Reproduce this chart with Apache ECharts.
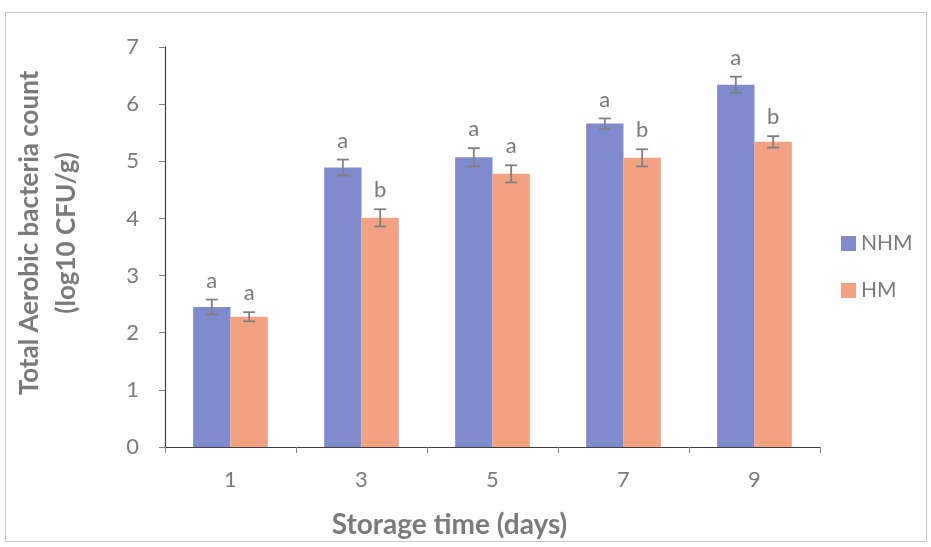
<!DOCTYPE html>
<html>
<head>
<meta charset="utf-8">
<script src="https://cdn.jsdelivr.net/npm/echarts@6/dist/echarts.min.js"></script>
<style>html,body{margin:0;padding:0;background:#fff;}#c{width:931px;height:547px;}</style>
</head>
<body>
<div id="c"></div>
<script>
var categories = ['1', '3', '5', '7', '9'];
var nhm = [2.45, 4.89, 5.07, 5.66, 6.34];
var hm = [2.28, 4.01, 4.78, 5.06, 5.34];
var nhmErr = [0.13, 0.14, 0.16, 0.09, 0.14];
var hmErr = [0.08, 0.15, 0.15, 0.15, 0.10];
var nhmLetters = ['a', 'a', 'a', 'a', 'a'];
var hmLetters = ['a', 'b', 'a', 'b', 'b'];
var yTicks = [0, 1, 2, 3, 4, 5, 6, 7];

var FONT = 'Lato, "Open Sans", sans-serif';
var GAP = 0.43;
var TXT = '#7a7a7a';

function errSeries(name, vals, errs, letters, side) {
  var data = vals.map(function (v, i) { return [i, v, errs[i]]; });
  return {
    name: name + '_err',
    type: 'custom',
    z: 5,
    data: data,
    renderItem: function (params, api) {
      var i = api.value(0), v = api.value(1), e = api.value(2);
      var letter = letters[params.dataIndex];
      var bw = api.size([1, 0])[0];
      var barW = bw * (1 - GAP) / 2;
      var c = api.coord([i, v]);
      var x = c[0] + side * barW / 2;
      var top = api.coord([i, v + e])[1];
      var bot = api.coord([i, v - e])[1];
      var cap = 6;
      var st = { stroke: '#808080', lineWidth: 1.8 };
      return {
        type: 'group',
        children: [
          { type: 'line', shape: { x1: x, y1: top, x2: x, y2: bot }, style: st },
          { type: 'line', shape: { x1: x - cap, y1: top, x2: x + cap, y2: top }, style: st },
          { type: 'line', shape: { x1: x - cap, y1: bot, x2: x + cap, y2: bot }, style: st },
          { type: 'text', x: x, y: top - 8, style: { text: letter, fill: TXT, font: '22px ' + FONT, textAlign: 'center', textVerticalAlign: 'bottom' } }
        ]
      };
    }
  };
}

var chart = echarts.init(document.getElementById('c'), null, { renderer: 'canvas' });
chart.setOption({
  backgroundColor: '#fff',
  animation: false,
  graphic: [
    { type: 'rect', shape: { x: 5.5, y: 12.5, width: 921, height: 529 }, style: { fill: 'none', stroke: '#cbbfd2', lineWidth: 1 } }
  ],
  grid: { left: 165, right: 111, top: 47, bottom: 100, outerBoundsMode: 'none', containLabel: false },
  legend: {
    orient: 'vertical',
    left: 836, top: 228,
    itemWidth: 15, itemHeight: 15, itemGap: 26,
    icon: 'rect',
    data: ['NHM', 'HM'],
    textStyle: { color: TXT, fontSize: 21, fontFamily: FONT, lineHeight: 20 }
  },
  xAxis: {
    type: 'category',
    data: categories,
    name: 'Storage time (days)',
    nameLocation: 'middle',
    nameGap: 64,
    nameTextStyle: { color: TXT, fontSize: 28, fontWeight: 'bold', fontFamily: FONT, padding: [0, 86, 0, 0] },
    axisLine: { lineStyle: { color: '#404040', width: 1.2 } },
    axisTick: { show: true, alignWithLabel: false, length: 6, inside: false, lineStyle: { color: '#808080' } },
    axisLabel: { color: TXT, fontSize: 22, fontFamily: FONT, margin: 22 }
  },
  yAxis: {
    type: 'value',
    min: 0, max: 7, interval: 1,
    name: 'Total Aerobic bacteria count\n(log10 CFU/g)',
    nameLocation: 'middle',
    nameGap: 80,
    nameTextStyle: { color: TXT, fontSize: 26, fontWeight: 'bold', fontFamily: FONT, lineHeight: 37, padding: [0, 0, 0, 28] },
    axisLine: { show: true, lineStyle: { color: '#404040', width: 1.2 } },
    axisTick: { show: true, length: 6, lineStyle: { color: '#808080' } },
    splitLine: { show: false },
    axisLabel: { color: TXT, fontSize: 22, fontFamily: FONT, margin: 26,
      formatter: function (v) { return yTicks.indexOf(v) >= 0 ? String(v) : ''; } }
  },
  series: [
    { name: 'NHM', type: 'bar', data: nhm, barGap: '0%', barCategoryGap: (GAP * 100) + '%',
      itemStyle: { color: '#7f8bcd' } },
    { name: 'HM', type: 'bar', data: hm, barGap: '0%', barCategoryGap: (GAP * 100) + '%',
      itemStyle: { color: '#f2a283' } },
    errSeries('NHM', nhm, nhmErr, nhmLetters, -1),
    errSeries('HM', hm, hmErr, hmLetters, 1)
  ]
});
</script>
</body>
</html>
